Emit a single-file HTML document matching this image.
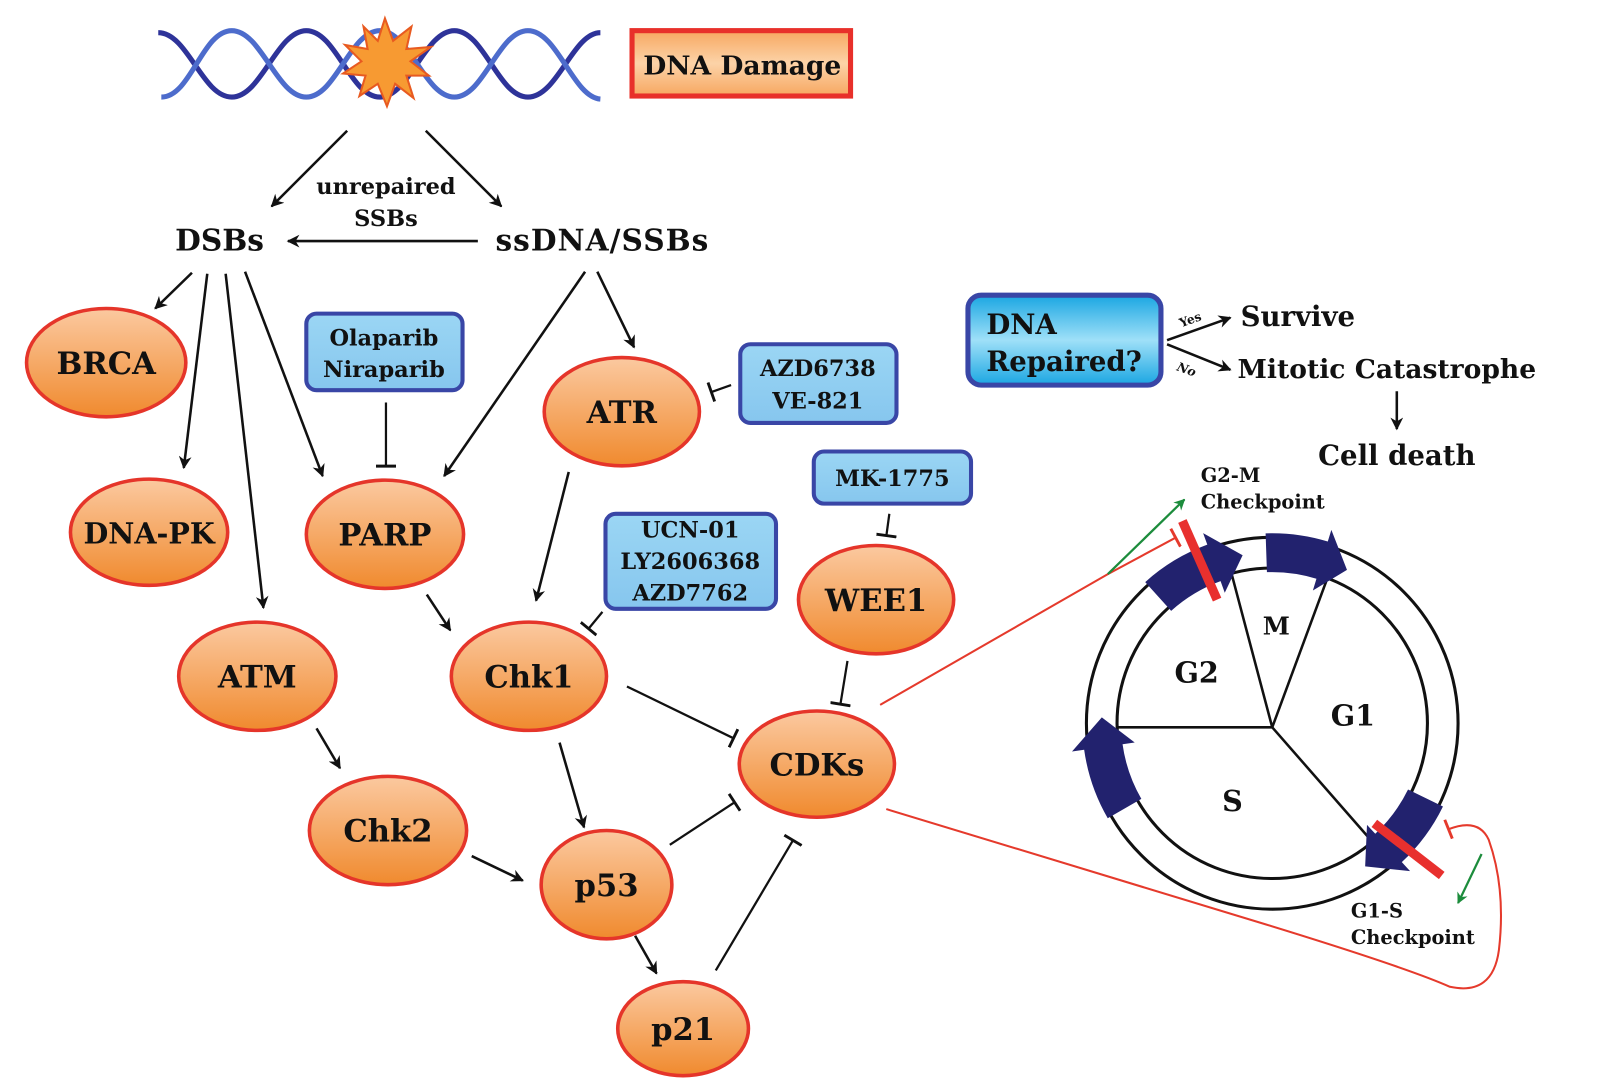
<!DOCTYPE html>
<html><head><meta charset="utf-8"><style>
html,body{margin:0;padding:0;background:#fff;}
svg{display:block;}
text{font-family:"DejaVu Serif","Liberation Serif",serif;font-weight:bold;fill:#111;}
</style></head><body>
<svg width="1600" height="1091" viewBox="0 0 1567 1068" preserveAspectRatio="none" xmlns="http://www.w3.org/2000/svg">
<defs>
<linearGradient id="og" x1="0" y1="0" x2="0" y2="1"><stop offset="0" stop-color="#fbc9a0"/><stop offset="1" stop-color="#f08a2e"/></linearGradient>
<linearGradient id="bg" x1="0" y1="0" x2="0" y2="1"><stop offset="0" stop-color="#9bd6f4"/><stop offset="1" stop-color="#86c6ee"/></linearGradient>
<linearGradient id="cg" x1="0" y1="0" x2="0" y2="1"><stop offset="0" stop-color="#1aa6e2"/><stop offset="0.5" stop-color="#9fe0f8"/><stop offset="1" stop-color="#1aa6e2"/></linearGradient>
<linearGradient id="dg" x1="0" y1="0" x2="0" y2="1"><stop offset="0" stop-color="#f7a760"/><stop offset="0.5" stop-color="#fcd3a8"/><stop offset="1" stop-color="#f7a760"/></linearGradient>
<marker id="ar" viewBox="0 0 10 10" refX="9" refY="5" markerWidth="5" markerHeight="5" orient="auto-start-reverse" markerUnits="strokeWidth"><path d="M0,0 L10,5 L0,10 L3,5 Z" fill="#111"/></marker>
<marker id="inh" viewBox="0 0 4 14" refX="2" refY="7" markerWidth="3.5" markerHeight="9" orient="auto" markerUnits="strokeWidth"><rect x="0.5" y="0" width="2" height="14" fill="#111"/></marker>
<marker id="inhr" viewBox="0 0 4 14" refX="2" refY="7" markerWidth="4" markerHeight="10" orient="auto" markerUnits="strokeWidth"><rect x="0.5" y="0" width="2" height="14" fill="#e53a2c"/></marker>
<marker id="arg" viewBox="0 0 10 10" refX="9" refY="5" markerWidth="5" markerHeight="5" orient="auto" markerUnits="strokeWidth"><path d="M0,0 L10,5 L0,10 L3,5 Z" fill="#1c8c3c"/></marker>
</defs>

<path d="M155,32 C184,32 198,95 227,95 C256,95 271,30 300,30 C329,30 343,95 372,95 C401,95 416,30 445,30 C474,30 488,95 517,95 C546,95 561,32 588,32" fill="none" stroke="#2e3399" stroke-width="5"/>
<path d="M158,95 C187,95 198,30 227,30 C256,30 271,95 300,95 C329,95 343,30 372,30 C401,30 416,95 445,95 C474,95 488,30 517,30 C546,30 561,95 588,97" fill="none" stroke="#4d6ccc" stroke-width="5"/>
<polygon points="377,18 385,40 403,26 398,48 422,46 402,60 420,74 398,74 405,96 387,82 379,104 370,82 352,94 358,74 336,72 354,60 338,44 360,48 356,26 370,40" fill="#f79a32" stroke="#e85a20" stroke-width="2"/>

<rect x="619" y="30" width="214" height="64" fill="url(#dg)" stroke="#e8302a" stroke-width="5"/>
<text x="727" y="73" font-size="26" text-anchor="middle">DNA Damage</text>

<g stroke="#111" stroke-width="2.5" fill="none" marker-end="url(#ar)">
<line x1="340" y1="128" x2="266" y2="202"/>
<line x1="417" y1="128" x2="491" y2="202"/>
<line x1="468" y1="236" x2="282" y2="236"/>
<line x1="188" y1="267" x2="152" y2="302"/>
<line x1="203" y1="268" x2="180" y2="458"/>
<line x1="221" y1="268" x2="258" y2="595"/>
<line x1="240" y1="266" x2="316" y2="466"/>
<line x1="573" y1="266" x2="435" y2="466"/>
<line x1="585" y1="266" x2="621" y2="340"/>
<line x1="557" y1="462" x2="525" y2="588"/>
<line x1="418" y1="582" x2="441" y2="617"/>
<line x1="310" y1="713" x2="333" y2="752"/>
<line x1="462" y1="838" x2="512" y2="862"/>
<line x1="548" y1="727" x2="572" y2="810"/>
<line x1="622" y1="916" x2="643" y2="953"/>
<line x1="1368" y1="383" x2="1368" y2="420"/>
<line x1="1143" y1="333" x2="1205" y2="311"/>
<line x1="1143" y1="337" x2="1205" y2="362"/>
</g>
<g stroke="#111" stroke-width="2.2" fill="none" marker-end="url(#inh)">
<line x1="378" y1="394" x2="378" y2="457"/>
<line x1="716" y1="377" x2="696" y2="384"/>
<line x1="871" y1="503" x2="868" y2="525"/>
<line x1="590" y1="599" x2="576" y2="616"/>
<line x1="614" y1="672" x2="719" y2="723"/>
<line x1="656" y1="827" x2="720" y2="785"/>
<line x1="701" y1="950" x2="777" y2="822"/>
<line x1="830" y1="647" x2="823" y2="690"/>
</g>

<text x="378" y="190" font-size="22" text-anchor="middle">unrepaired</text>
<text x="378" y="221" font-size="22" text-anchor="middle">SSBs</text>
<text x="215" y="245" font-size="29" text-anchor="middle">DSBs</text>
<text x="590" y="245" font-size="29" text-anchor="middle" letter-spacing="1">ssDNA/SSBs</text>

<g fill="url(#bg)" stroke="#3946a6" stroke-width="4">
<rect x="300" y="307" width="153" height="75" rx="10"/>
<rect x="725" y="337" width="153" height="77" rx="10"/>
<rect x="797" y="442" width="154" height="51" rx="10"/>
<rect x="593" y="503" width="167" height="93" rx="10"/>
</g>
<g font-size="22" text-anchor="middle">
<text x="376" y="338">Olaparib</text><text x="376" y="369">Niraparib</text>
<text x="801" y="368">AZD6738</text><text x="801" y="400">VE-821</text>
<text x="874" y="476">MK-1775</text>
<text x="676" y="526">UCN-01</text><text x="676" y="557">LY2606368</text><text x="676" y="588">AZD7762</text>
</g>

<g fill="url(#og)" stroke="#e5352a" stroke-width="3.5">
<ellipse cx="104" cy="355" rx="78" ry="53"/>
<ellipse cx="146" cy="521" rx="77" ry="52"/>
<ellipse cx="377" cy="523" rx="77" ry="53"/>
<ellipse cx="252" cy="662" rx="77" ry="53"/>
<ellipse cx="609" cy="403" rx="76" ry="53"/>
<ellipse cx="518" cy="662" rx="76" ry="53"/>
<ellipse cx="858" cy="587" rx="76" ry="53"/>
<ellipse cx="800" cy="748" rx="76" ry="52"/>
<ellipse cx="380" cy="813" rx="77" ry="53"/>
<ellipse cx="594" cy="866" rx="64" ry="53"/>
<ellipse cx="669" cy="1007" rx="64" ry="46"/>
</g>
<g font-size="30" text-anchor="middle">
<text x="104" y="366">BRCA</text>
<text x="146" y="532" font-size="28">DNA-PK</text>
<text x="377" y="534">PARP</text>
<text x="252" y="673">ATM</text>
<text x="609" y="414">ATR</text>
<text x="518" y="673">Chk1</text>
<text x="858" y="598">WEE1</text>
<text x="800" y="759">CDKs</text>
<text x="380" y="824">Chk2</text>
<text x="594" y="877">p53</text>
<text x="669" y="1018">p21</text>
</g>

<rect x="948" y="289" width="189" height="88" rx="13" fill="url(#cg)" stroke="#3946a6" stroke-width="5"/>
<text x="966" y="327" font-size="27">DNA</text>
<text x="966" y="363" font-size="27">Repaired?</text>
<text x="1155" y="318" font-size="12" transform="rotate(-20 1163 314)">Yes</text>
<text x="1153" y="365" font-size="12" font-style="italic" transform="rotate(20 1160 360)">No</text>
<text x="1215" y="319" font-size="27">Survive</text>
<text x="1212" y="370" font-size="26">Mitotic Catastrophe</text>
<text x="1368" y="455" font-size="27" text-anchor="middle">Cell death</text>

<circle cx="1246" cy="708" r="182" fill="none" stroke="#111" stroke-width="3"/>
<circle cx="1246" cy="708" r="152" fill="none" stroke="#111" stroke-width="3"/>
<g stroke="#111" stroke-width="2.5">
<line x1="1246" y1="712" x2="1206" y2="561"/>
<line x1="1246" y1="712" x2="1300" y2="566"/>
<line x1="1246" y1="712" x2="1094" y2="712"/>
<line x1="1246" y1="712" x2="1344" y2="824"/>
</g>
<g fill="#22226e">
<path d="M1147,598 L1121.6,569.8 A186 186 0 0 1 1182.4,533.2 L1178.3,521.9 L1217,543.5 L1199.5,580.2 L1195.4,568.9 A148 148 0 0 0 1147,598 Z"/>
<path d="M1240.8,560.1 L1239.5,522.1 A186 186 0 0 1 1300.4,530.1 L1303.9,518.7 L1319.2,557.9 L1285.8,578 L1289.3,566.5 A148 148 0 0 0 1240.8,560.1 Z"/>
<path d="M1379,772.9 L1413.2,789.5 A186 186 0 0 1 1372.9,844 L1381,852.8 L1337,848.1 L1338.8,807.5 L1346.9,816.2 A148 148 0 0 0 1379,772.9 Z"/>
<path d="M1117.8,782 L1084.9,801 A186 186 0 0 1 1061.8,733.9 L1049.9,735.6 L1079.1,702.2 L1111.3,726.9 L1099.4,728.6 A148 148 0 0 0 1117.8,782 Z"/>
</g>
<g font-size="28" text-anchor="middle">
<text x="1250" y="621" font-size="24">M</text>
<text x="1172" y="668">G2</text>
<text x="1325" y="710">G1</text>
<text x="1207" y="794">S</text>
</g>
<line x1="1158" y1="510" x2="1192" y2="587" stroke="#e8302e" stroke-width="9"/>
<line x1="1346" y1="806" x2="1412" y2="857" stroke="#e8302e" stroke-width="9"/>
<path d="M862,690 L1085,562 L1152,526" fill="none" stroke="#e53a2c" stroke-width="2" marker-end="url(#inhr)"/>
<path d="M868,792 L1240,905 Q1380,948 1420,966 Q1462,975 1468,930 Q1475,870 1458,822 Q1448,800 1418,812" fill="none" stroke="#e53a2c" stroke-width="2" marker-end="url(#inhr)"/>
<line x1="1085" y1="562" x2="1160" y2="489" stroke="#1c8c3c" stroke-width="2.2" marker-end="url(#arg)"/>
<line x1="1451" y1="836" x2="1428" y2="884" stroke="#1c8c3c" stroke-width="2.2" marker-end="url(#arg)"/>
<g font-size="19">
<text x="1176" y="472">G2-M</text><text x="1176" y="498">Checkpoint</text>
<text x="1323" y="898">G1-S</text><text x="1323" y="924">Checkpoint</text>
</g>
</svg>
</body></html>
